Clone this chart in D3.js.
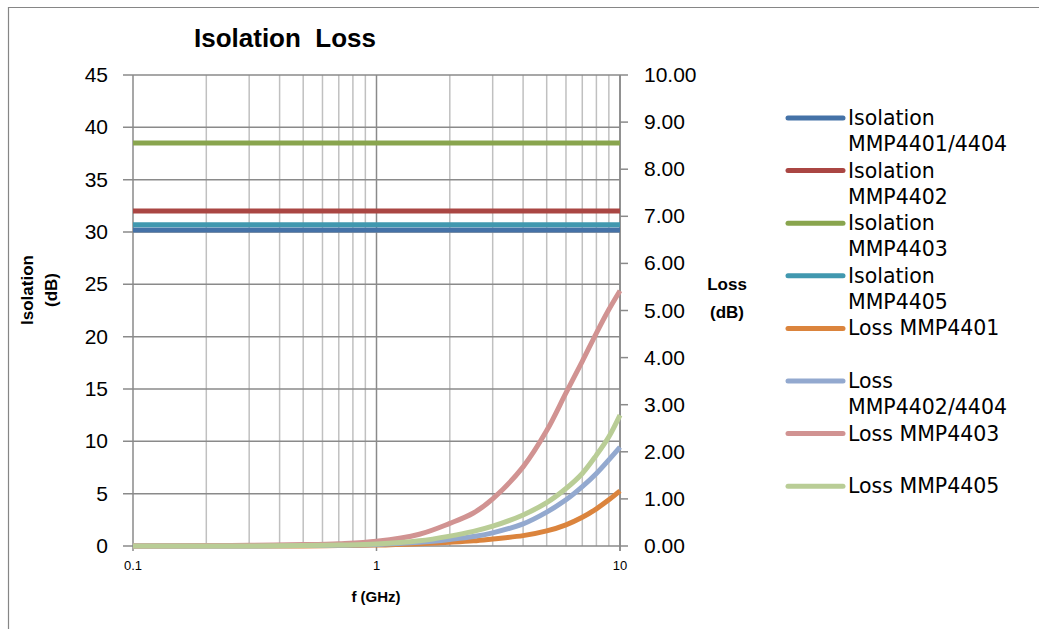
<!DOCTYPE html>
<html>
<head>
<meta charset="utf-8">
<script src="https://cdn.jsdelivr.net/npm/d3@7"></script>
<style>
  body { margin: 0; background: #fff; }
  text { font-family: "Liberation Sans", Arial, sans-serif; fill: #000; }
</style>
</head>
<body>
<div id="chart"></div>
<script>
var margin = {top: 75, right: 419, bottom: 83, left: 133},
    width = 1039 - margin.left - margin.right,
    height = 629 - margin.top - margin.bottom;

// data
var freq = [0.1, 0.2, 0.3, 0.5, 0.7, 1, 1.5, 2, 2.5, 3, 4, 5, 6, 7, 8, 9, 10];

var isoNames = ["Isolation MMP4401/4404", "Isolation MMP4402", "Isolation MMP4403", "Isolation MMP4405"];
var isoValues = [30.2, 32.0, 38.5, 30.7];
var isoColors = ["#4572A7", "#AA4643", "#89A54E", "#4198AF"];

var lossNames = ["Loss MMP4401", "Loss MMP4402/4404", "Loss MMP4403", "Loss MMP4405"];
var loss4401 = [0, 0, 0, 0, 0.01, 0.02, 0.05, 0.08, 0.11, 0.15, 0.22, 0.32, 0.45, 0.61, 0.79, 0.98, 1.17];
var loss4402 = [0, 0, 0, 0.01, 0.015, 0.03, 0.08, 0.14, 0.2, 0.28, 0.47, 0.72, 0.98, 1.26, 1.54, 1.83, 2.1];
var loss4403 = [0, 0.01, 0.015, 0.03, 0.05, 0.1, 0.25, 0.48, 0.7, 1.0, 1.68, 2.45, 3.25, 3.92, 4.52, 5.02, 5.42];
var loss4405 = [0, 0, 0, 0.01, 0.02, 0.04, 0.11, 0.21, 0.31, 0.42, 0.66, 0.92, 1.22, 1.54, 1.93, 2.32, 2.78];
var lossColors = ["#DB843D", "#93A9CF", "#D19392", "#B9CD96"];

var legendLines = [
  ["Isolation", "MMP4401/4404"], ["Isolation", "MMP4402"], ["Isolation", "MMP4403"], ["Isolation", "MMP4405"],
  ["Loss MMP4401"], ["Loss", "MMP4402/4404"], ["Loss MMP4403"], ["Loss MMP4405"]
];

var leftTicks = d3.range(0, 46, 5);
var rightTicks = d3.range(0, 11, 1);
var xLabels = [0.1, 1, 10];

var root = d3.select("#chart").append("svg")
    .attr("width", 1039)
    .attr("height", 629);

// outer frame (top and left edges only visible)
root.append("path")
    .attr("d", "M8.5,629 V7.5 H1039")
    .attr("fill", "none")
    .attr("stroke", "#868686")
    .attr("stroke-width", 1.2);

var svg = root.append("g")
    .attr("transform", "translate(" + margin.left + "," + margin.top + ")");

var x = d3.scaleLog().domain([0.1, 10]).range([0, width]);
var yL = d3.scaleLinear().domain([0, 45]).range([height, 0]);
var yR = d3.scaleLinear().domain([0, 10]).range([height, 0]);

// minor vertical grid
var minor = [];
[0.1, 1].forEach(function (d) {
  for (var k = 2; k <= 9; k++) minor.push(d * k);
});
svg.selectAll(".vminor").data(minor).enter().append("line")
    .attr("x1", function (d) { return x(d); }).attr("x2", function (d) { return x(d); })
    .attr("y1", 0).attr("y2", height)
    .attr("stroke", "#C0C0C0").attr("stroke-width", 1.5);

// major vertical grid
svg.selectAll(".vmajor").data(xLabels).enter().append("line")
    .attr("x1", function (d) { return x(d); }).attr("x2", function (d) { return x(d); })
    .attr("y1", 0).attr("y2", height + 5)
    .attr("stroke", "#8A8A8A").attr("stroke-width", 1.5);

// horizontal grid + left ticks
svg.selectAll(".hgrid").data(leftTicks).enter().append("line")
    .attr("x1", -10).attr("x2", width)
    .attr("y1", function (d) { return yL(d); }).attr("y2", function (d) { return yL(d); })
    .attr("stroke", "#8A8A8A").attr("stroke-width", 1.5);

// right axis
svg.append("line")
    .attr("x1", width).attr("x2", width).attr("y1", 0).attr("y2", height + 5)
    .attr("stroke", "#8A8A8A").attr("stroke-width", 1.5);
svg.selectAll(".rtick").data(rightTicks).enter().append("line")
    .attr("x1", width).attr("x2", width + 8)
    .attr("y1", function (d) { return yR(d); }).attr("y2", function (d) { return yR(d); })
    .attr("stroke", "#8A8A8A").attr("stroke-width", 1.5);

// tick labels
svg.selectAll(".ltxt").data(leftTicks).enter().append("text")
    .attr("x", -25).attr("y", function (d) { return yL(d) + 7; })
    .attr("text-anchor", "end").style("font-size", "21px")
    .text(function (d) { return d; });
svg.selectAll(".rtxt").data(rightTicks).enter().append("text")
    .attr("x", width + 24).attr("y", function (d) { return yR(d) + 7; })
    .style("font-size", "21px")
    .text(function (d) { return d.toFixed(2); });
svg.selectAll(".xtxt").data(xLabels).enter().append("text")
    .attr("x", function (d) { return x(d); }).attr("y", height + 24)
    .attr("text-anchor", "middle").style("font-size", "13px")
    .text(function (d) { return d; });

// isolation lines, left axis
isoValues.forEach(function (v, i) {
  svg.append("path")
      .datum(freq)
      .attr("d", d3.line().x(function (d) { return x(d); }).y(function () { return yL(v); }))
      .attr("fill", "none")
      .attr("stroke", isoColors[i])
      .attr("stroke-width", 5);
});

// loss curves, right axis
var lossLine = d3.line()
    .x(function (d) { return x(d[0]); })
    .y(function (d) { return yR(d[1]); })
    .curve(d3.curveCatmullRom.alpha(0.5));
[loss4401, loss4402, loss4403, loss4405].forEach(function (vals, i) {
  svg.append("path")
      .datum(freq.map(function (f, j) { return [f, vals[j]]; }))
      .attr("d", lossLine)
      .attr("fill", "none")
      .attr("stroke", lossColors[i])
      .attr("stroke-width", 5);
});

// titles
root.append("text")
    .attr("x", 285).attr("y", 47)
    .attr("text-anchor", "middle")
    .style("white-space", "pre")
    .style("font-size", "26px").style("font-weight", "bold")
    .text("Isolation  Loss");

root.append("text")
    .attr("x", 376).attr("y", 602)
    .attr("text-anchor", "middle")
    .style("font-size", "15px").style("font-weight", "bold")
    .text("f (GHz)");

var yt = root.append("text")
    .attr("transform", "translate(33,290) rotate(-90)")
    .attr("text-anchor", "middle")
    .style("font-size", "17px").style("font-weight", "bold");
yt.append("tspan").attr("x", 0).attr("y", 0).text("Isolation");
yt.append("tspan").attr("x", 0).attr("y", 24).text("(dB)");

var rt = root.append("text")
    .attr("text-anchor", "middle")
    .style("font-size", "17px").style("font-weight", "bold");
rt.append("tspan").attr("x", 727).attr("y", 290).text("Loss");
rt.append("tspan").attr("x", 727).attr("y", 318).text("(dB)");

// legend
var legColors = isoColors.concat(lossColors);
var leg = root.selectAll(".leg").data(legendLines).enter().append("g")
    .attr("transform", function (d, i) { return "translate(788," + (118 + i * 52.6) + ")"; });
leg.append("line")
    .attr("x1", 0).attr("x2", 55).attr("y1", 0).attr("y2", 0)
    .attr("stroke", function (d, i) { return legColors[i]; })
    .attr("stroke-width", 5).attr("stroke-linecap", "round");
leg.each(function (d) {
  var t = d3.select(this).append("text")
      .style("font-family", "'DejaVu Sans', Verdana, sans-serif")
      .style("font-size", "20.5px");
  d.forEach(function (s, k) {
    t.append("tspan").attr("x", 60).attr("y", 7 + k * 26).text(s);
  });
});
</script>
</body>
</html>
